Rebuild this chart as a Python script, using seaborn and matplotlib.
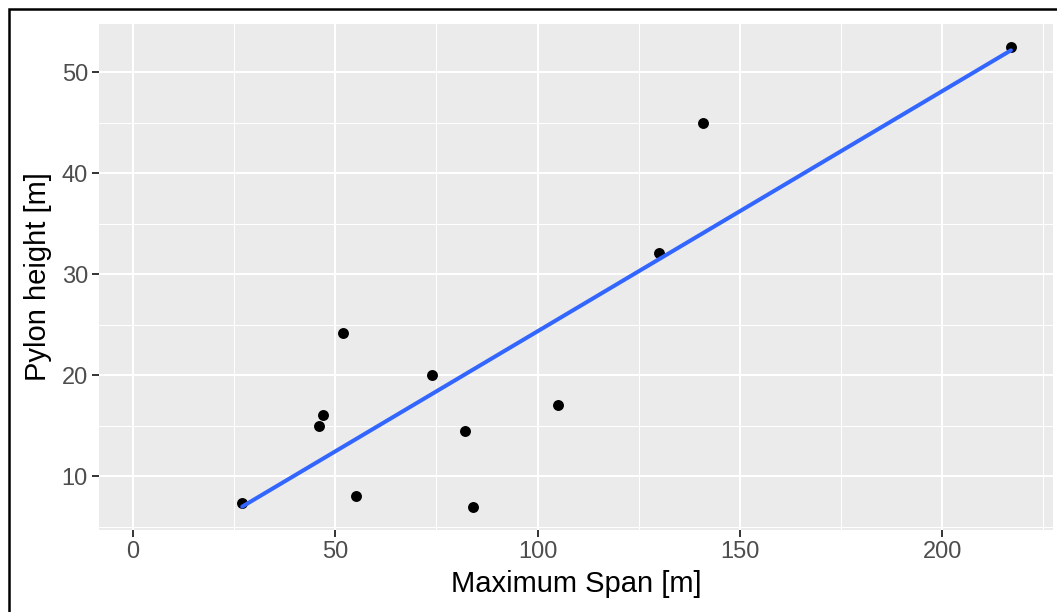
import matplotlib
matplotlib.use("Agg")
import matplotlib.pyplot as plt
from matplotlib.patches import Rectangle
from matplotlib.ticker import MultipleLocator
import seaborn as sns
import pandas as pd

# Data
max_span = [27, 46, 47, 52, 55, 74, 82, 84, 105, 130, 141, 217]
pylon_height = [7.4, 15.0, 16.1, 24.2, 8.1, 20.0, 14.5, 7.0, 17.1, 32.1, 45.0, 52.5]
x_ticks = [0, 50, 100, 150, 200]
y_ticks = [10, 20, 30, 40, 50]
x_label = "Maximum Span [m]"
y_label = "Pylon height [m]"

df = pd.DataFrame({"span": max_span, "height": pylon_height})

sns.set_theme(style="whitegrid")
plt.rcParams['font.family'] = ['Liberation Sans', 'DejaVu Sans']

W, H = 1057, 612
fig = plt.figure(figsize=(W / 100, H / 100), dpi=100)
fig.patch.set_facecolor("white")
ax = fig.add_axes([99 / W, 1 - 530 / H, (1053 - 99) / W, (530 - 24) / H])

ax.set_facecolor("#EBEBEB")
ax.set_axisbelow(True)

sns.regplot(data=df, x="span", y="height", ax=ax, ci=None, truncate=True,
            scatter_kws=dict(s=62, color="black", linewidths=0, alpha=1),
            line_kws=dict(color="#3366FF", linewidth=2.9))

ax.set_xlim(-8.4, 227.4)
ax.set_ylim(4.7, 54.75)
ax.set_xticks(x_ticks)
ax.set_yticks(y_ticks)
ax.xaxis.set_minor_locator(MultipleLocator(25))
ax.yaxis.set_minor_locator(MultipleLocator(5))

ax.grid(which="major", color="white", linewidth=1.5)
ax.grid(which="minor", color="white", linewidth=0.75)

for s in ax.spines.values():
    s.set_visible(False)

ax.tick_params(axis="both", which="major", length=5, width=1.4, color="#333333",
               labelsize=17, labelcolor="#4D4D4D", pad=3, bottom=True, left=True)
ax.tick_params(axis="both", which="minor", length=0)

ax.set_xlabel(x_label, fontsize=21, color="black", labelpad=5)
ax.set_ylabel(y_label, fontsize=21, color="black", labelpad=7)

# outer border
fig.patches.append(Rectangle((9 / W, -0.1), 1.2, 1 - 9 / H + 0.1,
                             transform=fig.transFigure, fill=False,
                             edgecolor="black", linewidth=1.8, zorder=10))

fig.savefig("out.png", dpi=100, facecolor="white")
